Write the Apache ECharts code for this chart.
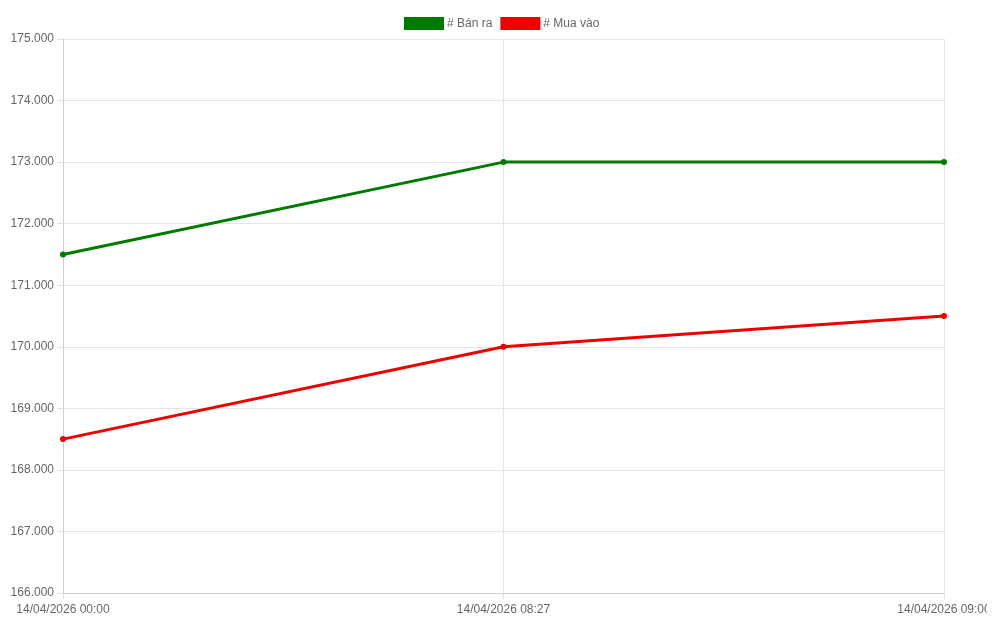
<!DOCTYPE html>
<html>
<head>
<meta charset="utf-8">
<script src="https://cdn.jsdelivr.net/npm/echarts@6/dist/echarts.min.js"></script>
<style>
html,body{margin:0;padding:0;background:#fff;}
#c{width:987px;height:630px;}
</style>
</head>
<body>
<div id="c"></div>
<script>
const categories = ['14/04/2026 00:00', '14/04/2026 08:27', '14/04/2026 09:00'];
const banRa = [171500, 173000, 173000];
const muaVao = [168500, 170000, 170500];
const seriesNames = ['# Bán ra', '# Mua vào'];

function fmt(v) {
  return String(Math.round(v)).replace(/\B(?=(\d{3})+(?!\d))/g, '.');
}

const chart = echarts.init(document.getElementById('c'), null, {renderer: 'canvas'});
chart.setOption({
  animation: false,
  textStyle: {fontFamily: 'Liberation Sans, Arial, sans-serif'},
  legend: {
    top: 12,
    left: 399,
    icon: 'rect',
    itemWidth: 40,
    itemHeight: 13,
    itemGap: 8,
    textStyle: {color: '#666', fontSize: 12, fontFamily: 'Liberation Sans, Arial, sans-serif', padding: [0, 0, 0, -2]},
    data: seriesNames
  },
  grid: {left: 63, right: 43, top: 39, bottom: 37, containLabel: false, outerBoundsMode: 'none'},
  xAxis: {
    type: 'category',
    data: categories,
    boundaryGap: false,
    axisLine: {lineStyle: {color: '#d0d0d0', width: 1}},
    axisTick: {show: true, length: 6, lineStyle: {color: '#e0e0e0'}},
    axisLabel: {color: '#666', fontSize: 12, margin: 11, fontFamily: 'Liberation Sans, Arial, sans-serif', hideOverlap: false},
    splitLine: {show: true, lineStyle: {color: '#e5e5e5', width: 1}}
  },
  yAxis: {
    type: 'value',
    min: 166000,
    max: 175000,
    interval: 1000,
    axisLine: {show: true, lineStyle: {color: '#d0d0d0', width: 1}},
    axisTick: {show: true, length: 6, lineStyle: {color: '#e0e0e0'}},
    axisLabel: {color: '#666', fontSize: 12, margin: 9, formatter: fmt, fontFamily: 'Liberation Sans, Arial, sans-serif'},
    splitLine: {show: true, lineStyle: {color: '#e5e5e5', width: 1}}
  },
  series: [
    {
      name: seriesNames[0],
      type: 'line',
      data: banRa,
      symbol: 'circle',
      symbolSize: 6,
      lineStyle: {color: '#007a00', width: 3},
      itemStyle: {color: '#007a00'},
      color: '#007a00'
    },
    {
      name: seriesNames[1],
      type: 'line',
      data: muaVao,
      symbol: 'circle',
      symbolSize: 6,
      lineStyle: {color: '#ee0000', width: 3},
      itemStyle: {color: '#ee0000'},
      color: '#ee0000'
    }
  ]
});
</script>
</body>
</html>
